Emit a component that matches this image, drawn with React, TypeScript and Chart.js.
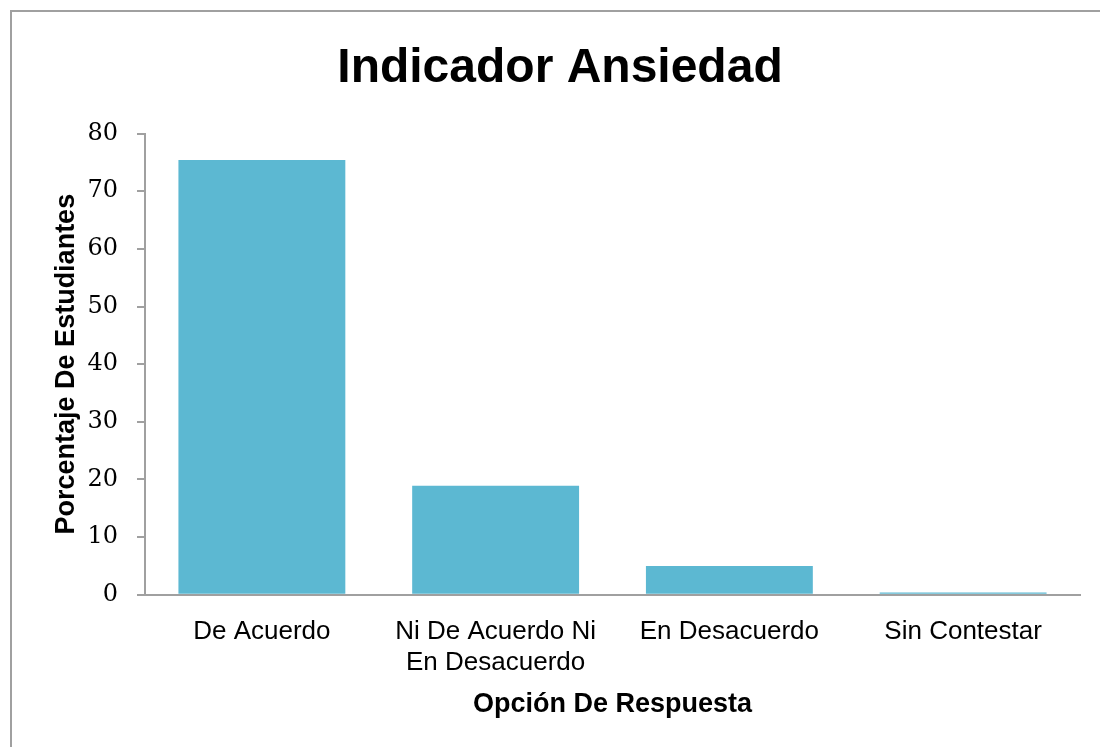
import React, { useEffect, useRef } from "react";
import { Chart, registerables } from "chart.js";

Chart.register(...registerables);

const categories: (string | string[])[] = [
  "De Acuerdo",
  ["Ni De Acuerdo Ni", "En Desacuerdo"],
  "En Desacuerdo",
  "Sin Contestar",
];
const values: number[] = [75.4, 18.9, 5.0, 0.4];
const yTicks: number[] = [0, 10, 20, 30, 40, 50, 60, 70, 80];

const titleText = "Indicador Ansiedad";
const xTitle = "Opción De Respuesta";
const yTitle = "Porcentaje De Estudiantes";

export default function App() {
  const ref = useRef<HTMLCanvasElement | null>(null);

  useEffect(() => {
    if (!ref.current) return;
    const axisColor = "#a0a0a0";
    const chart = new Chart(ref.current, {
      type: "bar",
      data: {
        labels: categories,
        datasets: [
          {
            data: values,
            backgroundColor: "#5cb8d2",
            borderWidth: 0,
            barPercentage: 0.714,
            categoryPercentage: 1,
          },
        ],
      },
      options: {
        responsive: false,
        animation: false,
        layout: { padding: { top: 10, left: 40, right: 20, bottom: 26 } },
        plugins: {
          legend: { display: false },
          tooltip: { enabled: false },
          title: {
            display: true,
            text: titleText,
            color: "#000",
            font: { family: "'Liberation Sans', Arial, sans-serif", size: 48, weight: "bold" },
            padding: { top: 30, bottom: 36 },
          },
        },
        scales: {
          x: {
            grid: { display: false, drawTicks: false },
            border: { display: true, color: axisColor, width: 2 },
            ticks: {
              color: "#000",
              font: { family: "'Liberation Sans', Arial, sans-serif", size: 26 },
              padding: 21.5,
              maxRotation: 0,
              autoSkip: false,
            },
            title: {
              display: true,
              text: xTitle,
              color: "#000",
              font: { family: "'Liberation Sans', Arial, sans-serif", size: 27, weight: "bold" },
              padding: { top: -11.5, bottom: 0 },
            },
          },
          y: {
            min: 0,
            max: 80,
            afterFit: (s: any) => {
              s.width = 105;
            },
            afterBuildTicks: (s: any) => {
              s.ticks = yTicks.map((v) => ({ value: v }));
            },
            grid: {
              display: true,
              drawOnChartArea: false,
              drawTicks: true,
              tickLength: 8,
              color: axisColor,
              lineWidth: 2,
            },
            border: { display: true, color: axisColor, width: 2 },
            ticks: {
              color: "#000",
              font: { family: "'DejaVu Serif', serif", size: 24 },
              padding: 19,
            },
            title: {
              display: true,
              text: yTitle,
              color: "#000",
              font: { family: "'Liberation Sans', Arial, sans-serif", size: 27, weight: "bold" },
              padding: { top: 10, bottom: 0 },
            },
          },
        },
      },
    });
    return () => chart.destroy();
  }, []);

  return (
    <div style={{ position: "fixed", left: 0, top: 0, width: 1100, height: 747, background: "#fff" }}>
      <div
        style={{
          position: "absolute",
          left: 10,
          top: 10,
          width: 1100,
          height: 747,
          borderLeft: "2px solid #a0a0a0",
          borderTop: "2px solid #a0a0a0",
        }}
      />
      <canvas ref={ref} width={1100} height={747} style={{ position: "absolute", left: 0, top: 0 }} />
    </div>
  );
}
